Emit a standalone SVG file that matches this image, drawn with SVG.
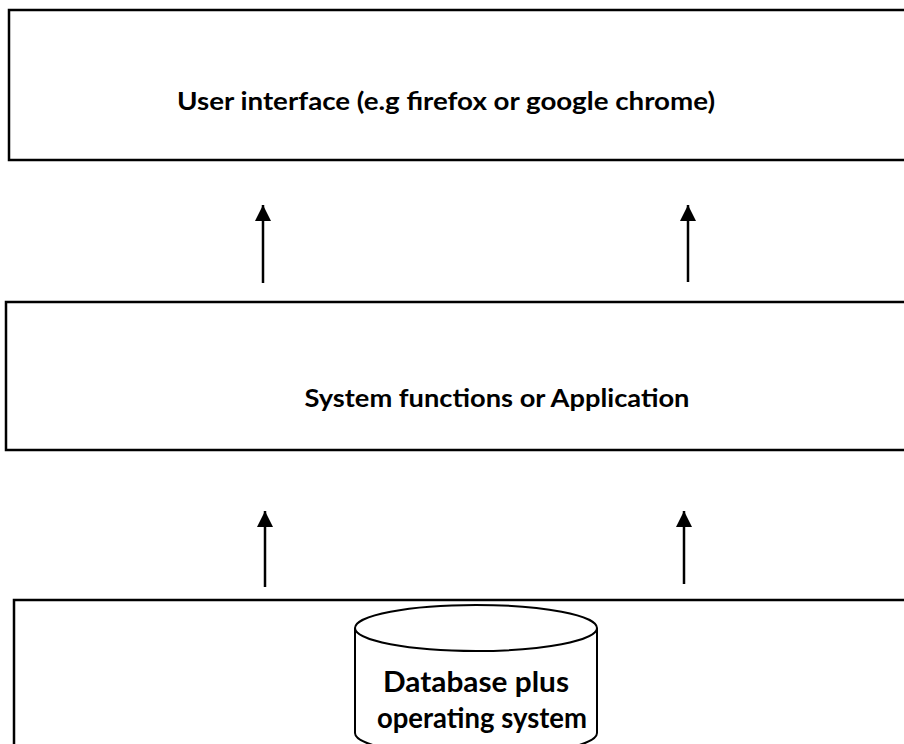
<svg xmlns="http://www.w3.org/2000/svg" width="904" height="744" viewBox="0 0 904 744">
  <style>
    .layer { fill: #ffffff; stroke: #000000; stroke-width: 2.5; }
    .label { font-family: "Lato", "Liberation Sans", sans-serif; font-weight: bold; fill: #000000; }
    .link { stroke: #000000; stroke-width: 2.5; fill: none; marker-end: url(#arrow); }
    .db { fill: #ffffff; stroke: #000000; stroke-width: 2; }
  </style>
  <defs>
    <marker id="arrow" viewBox="0 0 10 10" refX="10" refY="5" markerWidth="6.5" markerHeight="6.5" markerUnits="strokeWidth" orient="auto">
      <path d="M0,0 L10,5 L0,10 z" fill="#000000"/>
    </marker>
  </defs>
  <rect width="904" height="744" fill="#ffffff"/>

  <g id="user-interface">
    <rect class="layer" x="9" y="10" width="920" height="150"/>
    <text class="label" x="446" y="110" font-size="25" text-anchor="middle" textLength="538" lengthAdjust="spacingAndGlyphs">User interface (e.g firefox or google chrome)</text>
  </g>

  <g id="application">
    <rect class="layer" x="6" y="302" width="920" height="148"/>
    <text class="label" x="497" y="407" font-size="25" text-anchor="middle" textLength="385" lengthAdjust="spacingAndGlyphs">System functions or Application</text>
  </g>

  <g id="data-layer">
    <rect class="layer" x="14" y="600" width="920" height="170"/>
    <g id="database">
      <path class="db" d="M355,628 L355,733 A121,23 0 0 0 597,733 L597,628"/>
      <ellipse class="db" cx="476" cy="628" rx="121" ry="23"/>
      <text class="label" x="476" y="692" font-size="28" text-anchor="middle" textLength="186" lengthAdjust="spacingAndGlyphs">Database plus</text>
      <text class="label" x="482" y="728" font-size="28" text-anchor="middle" textLength="210" lengthAdjust="spacingAndGlyphs">operating system</text>
    </g>
  </g>

  <g id="connectors">
    <line class="link" x1="263" y1="283" x2="263" y2="205"/>
    <line class="link" x1="688" y1="282" x2="688" y2="205"/>
    <line class="link" x1="265" y1="587" x2="265" y2="511"/>
    <line class="link" x1="684" y1="584" x2="684" y2="511"/>
  </g>
</svg>
